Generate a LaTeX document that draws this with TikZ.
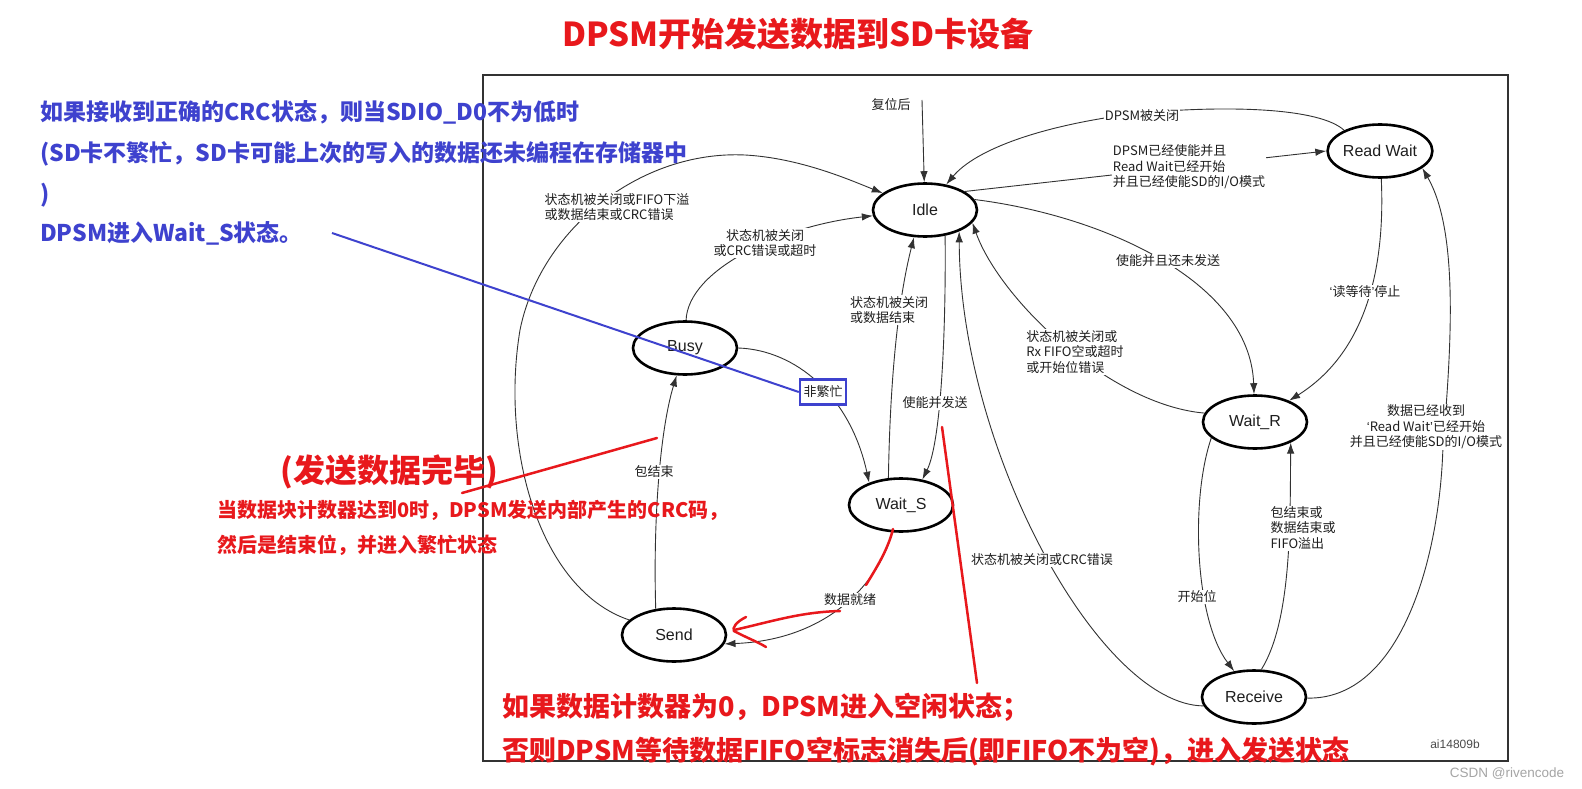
\documentclass[tikz,border=0pt]{standalone}
\usepackage{fontspec}
\setmainfont{Liberation Sans}
\newfontfamily\zhfont{Noto Sans CJK SC}
\usetikzlibrary{arrows.meta,shapes.geometric}
\definecolor{annred}{RGB}{232,24,28}
\definecolor{annblue}{RGB}{62,66,206}
\definecolor{ink}{RGB}{30,30,30}
\definecolor{wirecol}{RGB}{50,50,50}
\definecolor{marker}{RGB}{165,165,165}
% narrow Latin quotes inside CJK labels
\newcommand{\qopen}{{\rmfamily ‘}}
\newcommand{\qclose}{{\rmfamily ’}}
\begin{document}
\begin{tikzpicture}[x=1pt,y=-1pt,
  fsm/.style={ellipse, draw=black, line width=2.6pt, minimum width=104pt, minimum height=53pt,
    inner sep=0pt, font=\fontsize{16}{18}\selectfont, text=ink},
  wire/.style={draw=wirecol, line width=0.9pt},
  tip/.style={-{Latex[length=11pt,width=7.5pt]}},
  lbl/.style={font=\zhfont\fontsize{13}{15.5}\selectfont, text=ink, fill=white, inner sep=1pt},
  redtxt/.style={text=annred, anchor=west, inner sep=0pt},
  bluetxt/.style={text=annblue, anchor=west, inner sep=0pt, font=\zhfont\bfseries\fontsize{23}{26}\selectfont},
  redline/.style={draw=annred, line width=2.5pt, line cap=round},
]
\useasboundingbox (0,0) rectangle (1582,789);
\fill[white] (0,0) rectangle (1582,789);

% title
\node[text=annred, font=\zhfont\bfseries\fontsize{33}{36}\selectfont] (title) at (798,34) {DPSM开始发送数据到SD卡设备};

% states
\node[fsm] (Idle) at (925,210) {Idle};
\node[fsm] (RW)   at (1380,151) {Read Wait};
\node[fsm] (Busy) at (685,348) {Busy};
\node[fsm] (WS)   at (901,505) {Wait\_S};
\node[fsm] (Send) at (674,635) {Send};
\node[fsm] (WR)   at (1255,422) {Wait\_R};
\node[fsm] (Rc)   at (1254,697) {Receive};

% transitions
\coordinate (rst) at (922,100);
\draw[wire,tip] (rst) -- (Idle);
\draw[wire,tip] (RW.150) .. controls (1320,108) and (1230,105) .. (1140,113)
  .. controls (1040,125) and (975,150) .. (Idle);
\draw[wire,tip] (Idle.25) -- (RW.west);
\draw[wire,tip] (Idle.12) .. controls (1100,215) and (1250,280) .. (WR);
\draw[wire,tip] (RW) .. controls (1385,260) and (1370,350) .. (WR);
\draw[wire,tip] (Rc) .. controls (1400,700) and (1440,560) .. (1443,445)
  .. controls (1452,340) and (1458,230) .. (RW.-22);
\draw[wire,tip] (WR.170) .. controls (1110,405) and (1000,300) .. (Idle.-15);
\draw[wire,tip] (Rc.190) .. controls (1100,705) and (960,450) .. (Idle.-32);
\draw[wire,tip] (Busy) .. controls (688,270) and (780,226) .. (Idle);
\draw[wire,tip] (Send) .. controls (540,590) and (500,450) .. (520,330)
  .. controls (540,230) and (640,150) .. (745,155)
  .. controls (800,158) and (850,180) .. (Idle);
\draw[wire,tip] (Busy.east) .. controls (795,350) and (850,395) .. (WS.145);
\draw[wire,tip] (WS.115) .. controls (890,380) and (898,300) .. (Idle.-112);
\draw[wire,tip] (Idle.-52) .. controls (946,320) and (942,440) .. (WS.50);
\draw[wire,tip] (WS.-108) .. controls (880,580) and (830,640) .. (Send.-10);
\draw[wire,tip] (Send.125) .. controls (653,520) and (660,430) .. (Busy);
\draw[wire,tip] (WR.200) .. controls (1190,500) and (1195,620) .. (Rc);
\draw[wire,tip] (Rc.75) .. controls (1292,620) and (1290,520) .. (WR.-30);

% transition labels
\node[lbl] (l1) at (891,105) {复位后};
\node[lbl] (l2) at (1142,116) {DPSM被关闭};
\node[lbl, align=left] (l3) at (1189,167) {DPSM已经使能并且\\Read Wait已经开始\\并且已经使能SD的I/O模式};
\node[lbl] (l4) at (1168,261) {使能并且还未发送};
\node[lbl] (l5) at (1365,292) {\qopen 读等待\qclose 停止};
\node[lbl, align=center] (l6) at (1426,427) {数据已经收到\\\qopen Read Wait\qclose 已经开始\\并且已经使能SD的I/O模式};
\node[lbl, align=left] (l7) at (1075,352) {状态机被关闭或\\Rx FIFO空或超时\\或开始位错误};
\node[lbl] (l8) at (1042,560) {状态机被关闭或CRC错误};
\node[lbl, align=center] (l9) at (765,243) {状态机被关闭\\或CRC错误或超时};
\node[lbl, align=left] (l10) at (617,207) {状态机被关闭或FIFO下溢\\或数据结束或CRC错误};
\node[lbl, align=left] (l11) at (889,310) {状态机被关闭\\或数据结束};
\node[lbl] (l12) at (935,403) {使能并发送};
\node[lbl] (l13) at (850,600) {数据就绪};
\node[lbl] (l14) at (654,472) {包结束};
\node[lbl] (l15) at (1197,597) {开始位};
\node[lbl, align=left] (l16) at (1303,528) {包结束或\\数据结束或\\FIFO溢出};
\node[lbl, draw=annblue, line width=2.5pt, minimum width=46pt, minimum height=25pt] (nb) at (823,392) {非繁忙};

% figure frame and tag
\draw[draw=wirecol, line width=1.5pt] (483,75) rectangle (1508,761);
\node[text=ink!80, font=\fontsize{12}{14}\selectfont] (tag) at (1455,744) {ai14809b};
\node[text=marker, font=\fontsize{13.5}{15}\selectfont] (wm) at (1507,774) {CSDN @rivencode};

% blue note
\node[bluetxt] (b1) at (40,112) {如果接收到正确的CRC状态，则当SDIO\_D0不为低时};
\node[bluetxt] (b2) at (40,154) {(SD卡不繁忙，SD卡可能上次的写入的数据还未编程在存储器中};
\node[bluetxt] (b3) at (40,195) {)};
\node[bluetxt] (b4) at (40,233) {DPSM进入Wait\_S状态。};
\coordinate (bstart) at (332,233);
\draw[draw=annblue, line width=2pt] (bstart) -- (nb.west);

% red notes
\node[redtxt, font=\zhfont\bfseries\fontsize{32}{36}\selectfont] (r0) at (280,472) {(发送数据完毕)};
\node[redtxt, font=\zhfont\bfseries\fontsize{20}{24}\selectfont] (r1) at (217,510) {当数据块计数器达到0时，DPSM发送内部产生的CRC码，};
\node[redtxt, font=\zhfont\bfseries\fontsize{20}{24}\selectfont] (r2) at (217,545) {然后是结束位，并进入繁忙状态};
\node[redtxt, font=\zhfont\bfseries\fontsize{27}{30}\selectfont] (r3) at (502,707) {如果数据计数器为0，DPSM进入空闲状态；};
\node[redtxt, font=\zhfont\bfseries\fontsize{27}{30}\selectfont] (r4) at (502,752) {否则DPSM等待数据FIFO空标志消失后(即FIFO不为空)，进入发送状态};

% red strokes
\coordinate (ra) at (462,493);
\coordinate (rb) at (657,438);
\draw[redline] (ra) -- (rb);
\coordinate (rc) at (942,427);
\coordinate (rd) at (977,683);
\draw[redline] (rc) -- (rd);
\coordinate (re) at (893,529);
\coordinate (rf) at (866,585);
\draw[redline] (re) .. controls (888,550) and (875,570) .. (rf);
\coordinate (rg) at (840,611);
\coordinate (rh) at (734,630);
\draw[redline] (rg) .. controls (800,612) and (770,622) .. (rh);
\coordinate (ri) at (746,617);
\coordinate (rj) at (766,647);
\draw[redline] (ri) .. controls (736,622) and (732,628) .. (734,631)
  .. controls (745,637) and (758,642) .. (rj);
\end{tikzpicture}
\end{document}
